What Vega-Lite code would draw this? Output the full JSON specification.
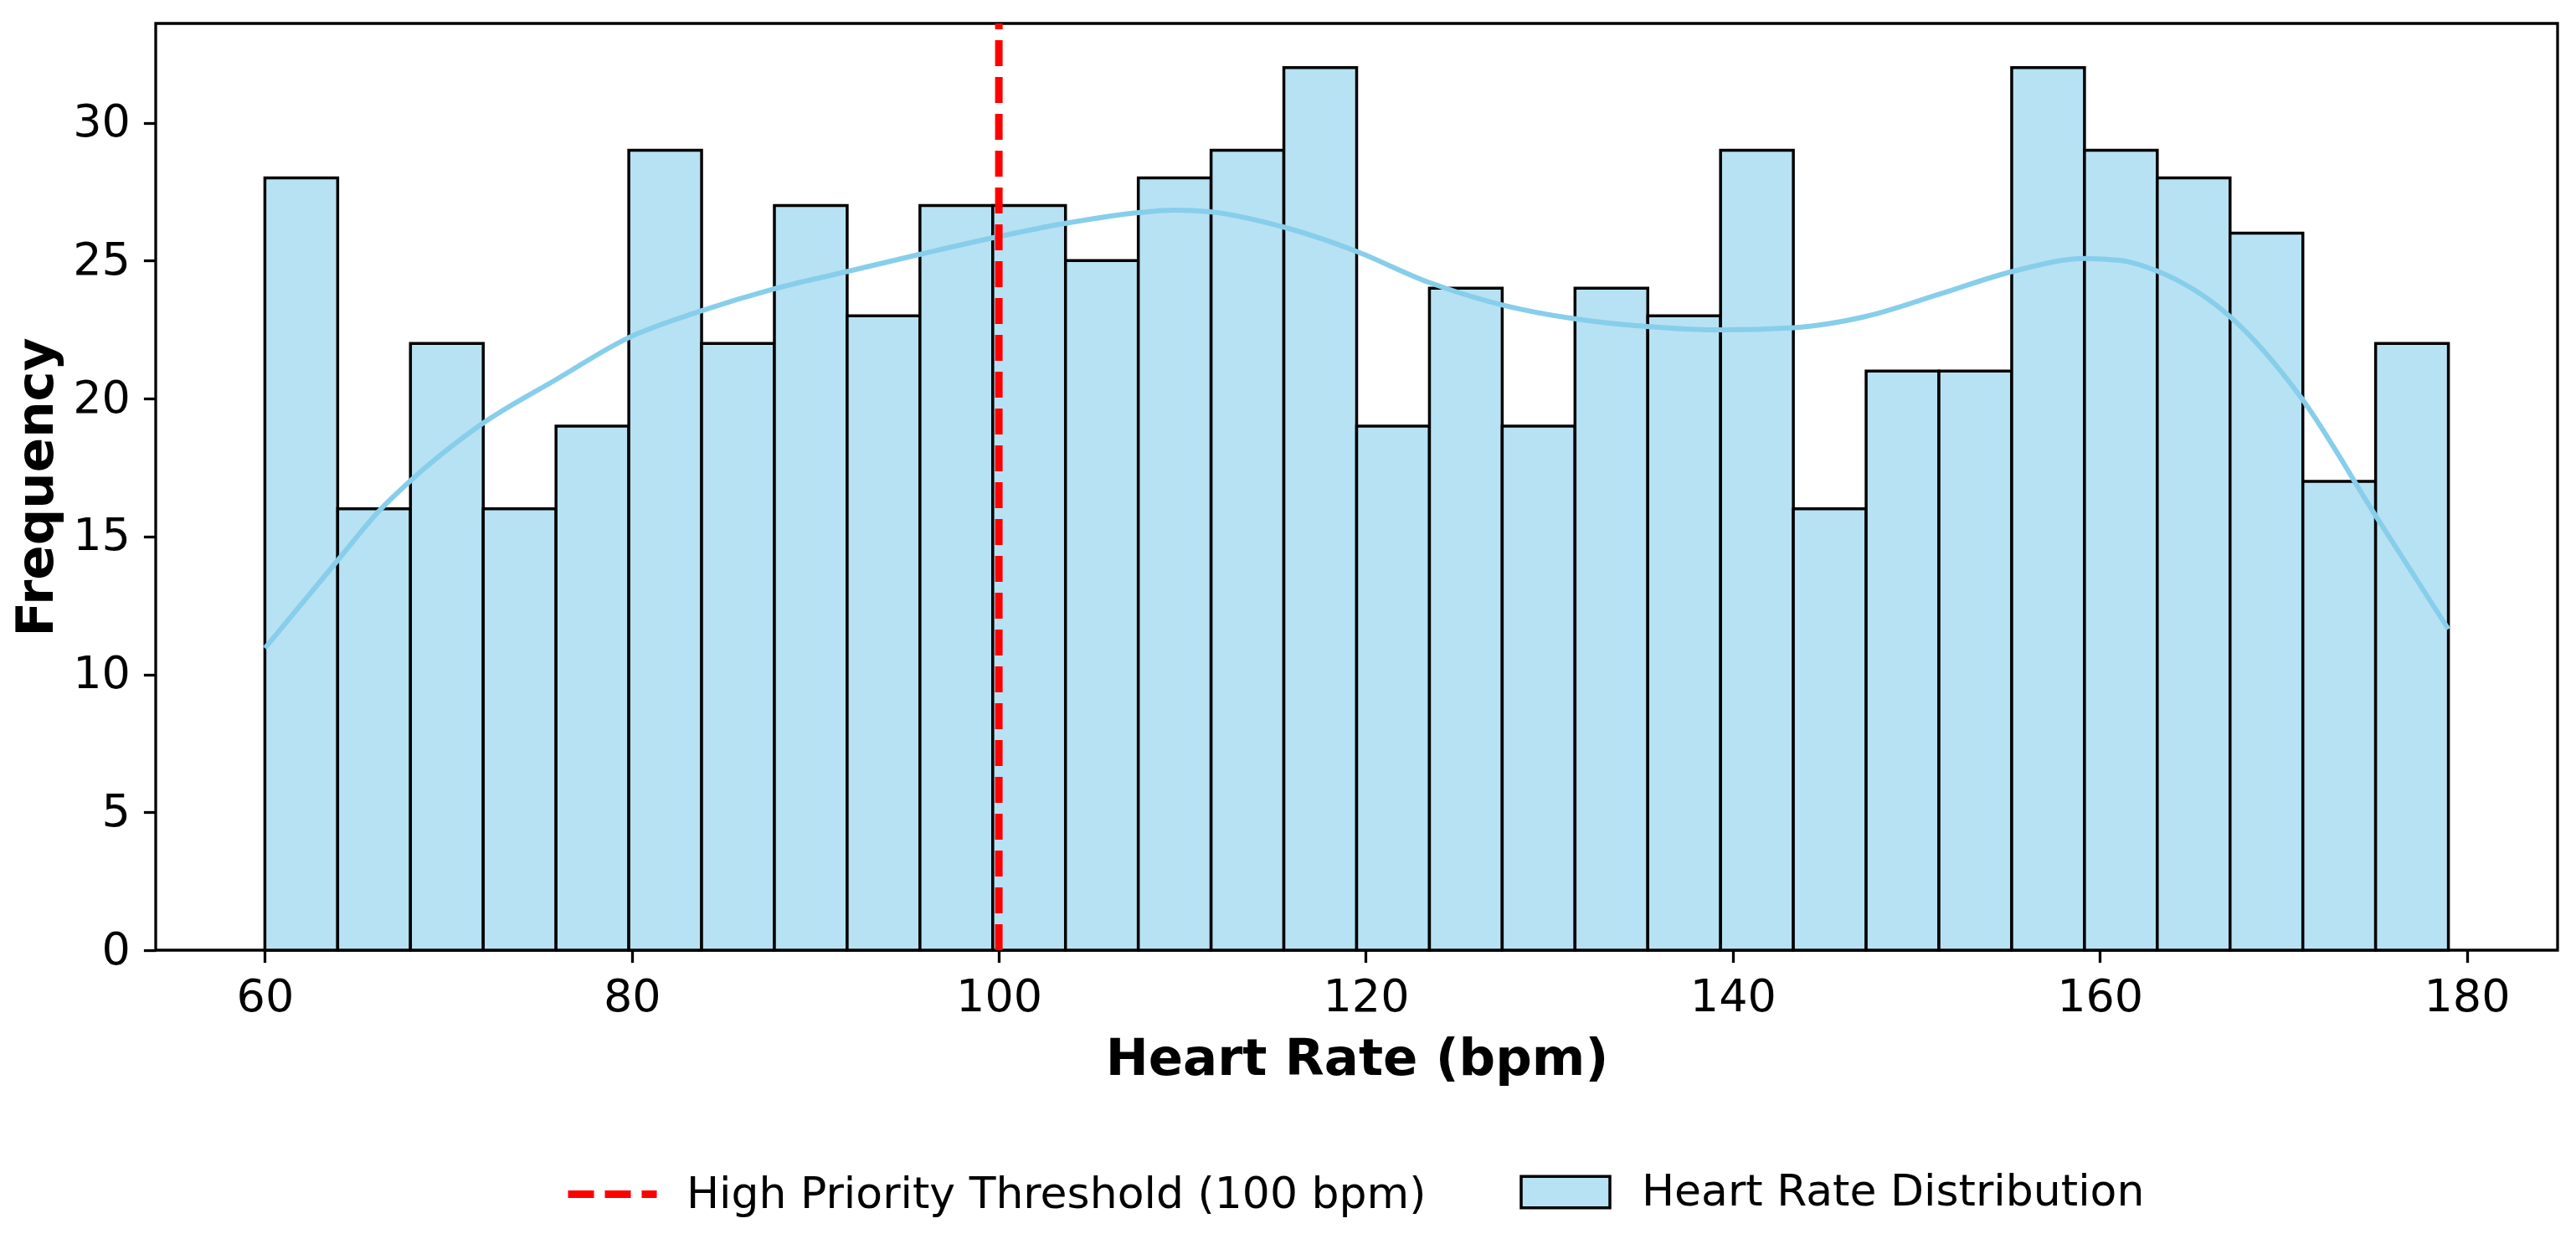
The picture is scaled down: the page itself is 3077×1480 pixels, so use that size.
{
  "$schema": "https://vega.github.io/schema/vega-lite/v6.json",
  "width": 2869,
  "height": 1107,
  "autosize": {"type": "none"},
  "padding": {"left": 186, "top": 28, "right": 22, "bottom": 345},
  "background": "white",
  "datasets": {
    "bins": [
      {"bin_start": 60, "bin_end": 63.967, "count": 28, "series": "Heart Rate Distribution"},
      {"bin_start": 63.967, "bin_end": 67.933, "count": 16, "series": "Heart Rate Distribution"},
      {"bin_start": 67.933, "bin_end": 71.9, "count": 22, "series": "Heart Rate Distribution"},
      {"bin_start": 71.9, "bin_end": 75.867, "count": 16, "series": "Heart Rate Distribution"},
      {"bin_start": 75.867, "bin_end": 79.833, "count": 19, "series": "Heart Rate Distribution"},
      {"bin_start": 79.833, "bin_end": 83.8, "count": 29, "series": "Heart Rate Distribution"},
      {"bin_start": 83.8, "bin_end": 87.767, "count": 22, "series": "Heart Rate Distribution"},
      {"bin_start": 87.767, "bin_end": 91.733, "count": 27, "series": "Heart Rate Distribution"},
      {"bin_start": 91.733, "bin_end": 95.7, "count": 23, "series": "Heart Rate Distribution"},
      {"bin_start": 95.7, "bin_end": 99.667, "count": 27, "series": "Heart Rate Distribution"},
      {"bin_start": 99.667, "bin_end": 103.633, "count": 27, "series": "Heart Rate Distribution"},
      {"bin_start": 103.633, "bin_end": 107.6, "count": 25, "series": "Heart Rate Distribution"},
      {"bin_start": 107.6, "bin_end": 111.567, "count": 28, "series": "Heart Rate Distribution"},
      {"bin_start": 111.567, "bin_end": 115.533, "count": 29, "series": "Heart Rate Distribution"},
      {"bin_start": 115.533, "bin_end": 119.5, "count": 32, "series": "Heart Rate Distribution"},
      {"bin_start": 119.5, "bin_end": 123.467, "count": 19, "series": "Heart Rate Distribution"},
      {"bin_start": 123.467, "bin_end": 127.433, "count": 24, "series": "Heart Rate Distribution"},
      {"bin_start": 127.433, "bin_end": 131.4, "count": 19, "series": "Heart Rate Distribution"},
      {"bin_start": 131.4, "bin_end": 135.367, "count": 24, "series": "Heart Rate Distribution"},
      {"bin_start": 135.367, "bin_end": 139.333, "count": 23, "series": "Heart Rate Distribution"},
      {"bin_start": 139.333, "bin_end": 143.3, "count": 29, "series": "Heart Rate Distribution"},
      {"bin_start": 143.3, "bin_end": 147.267, "count": 16, "series": "Heart Rate Distribution"},
      {"bin_start": 147.267, "bin_end": 151.233, "count": 21, "series": "Heart Rate Distribution"},
      {"bin_start": 151.233, "bin_end": 155.2, "count": 21, "series": "Heart Rate Distribution"},
      {"bin_start": 155.2, "bin_end": 159.167, "count": 32, "series": "Heart Rate Distribution"},
      {"bin_start": 159.167, "bin_end": 163.133, "count": 29, "series": "Heart Rate Distribution"},
      {"bin_start": 163.133, "bin_end": 167.1, "count": 28, "series": "Heart Rate Distribution"},
      {"bin_start": 167.1, "bin_end": 171.067, "count": 26, "series": "Heart Rate Distribution"},
      {"bin_start": 171.067, "bin_end": 175.033, "count": 17, "series": "Heart Rate Distribution"},
      {"bin_start": 175.033, "bin_end": 179, "count": 22, "series": "Heart Rate Distribution"}
    ],
    "kde": [
      {"bpm": 60, "density": 10.95},
      {"bpm": 64, "density": 14.16},
      {"bpm": 66.3, "density": 15.98},
      {"bpm": 67.9, "density": 17.0},
      {"bpm": 71.8, "density": 19.07},
      {"bpm": 75.9, "density": 20.7},
      {"bpm": 79.8, "density": 22.2},
      {"bpm": 83.7, "density": 23.16},
      {"bpm": 87.7, "density": 23.97},
      {"bpm": 91.7, "density": 24.6},
      {"bpm": 95.7, "density": 25.23},
      {"bpm": 99.9, "density": 25.86},
      {"bpm": 103.7, "density": 26.36},
      {"bpm": 107.6, "density": 26.74},
      {"bpm": 109.6, "density": 26.83},
      {"bpm": 111.5, "density": 26.77},
      {"bpm": 115.4, "density": 26.24},
      {"bpm": 119.4, "density": 25.36},
      {"bpm": 123.4, "density": 24.22},
      {"bpm": 127.4, "density": 23.4},
      {"bpm": 131.3, "density": 22.9},
      {"bpm": 135.3, "density": 22.61},
      {"bpm": 139.3, "density": 22.49},
      {"bpm": 143.3, "density": 22.57},
      {"bpm": 147.2, "density": 22.97},
      {"bpm": 151.3, "density": 23.79},
      {"bpm": 155.2, "density": 24.6},
      {"bpm": 159.2, "density": 25.08},
      {"bpm": 161.2, "density": 25.0},
      {"bpm": 163.1, "density": 24.63},
      {"bpm": 167.1, "density": 22.97},
      {"bpm": 171.0, "density": 20.01},
      {"bpm": 175.0, "density": 15.79},
      {"bpm": 179.0, "density": 11.64}
    ],
    "threshold": [
      {"bpm": 100, "label": "High Priority Threshold (100 bpm)"}
    ]
  },
  "layer": [
    {
      "data": {"name": "bins"},
      "mark": {"type": "bar", "stroke": "black", "strokeWidth": 3.5},
      "encoding": {
        "x": {
          "field": "bin_start",
          "type": "quantitative",
          "title": "Heart Rate (bpm)",
          "scale": {"domain": [54.05, 184.95], "nice": false, "zero": false},
          "axis": {
            "values": [60, 80, 100, 120, 140, 160, 180],
            "format": "d",
            "titleFont": "DejaVu Sans",
            "titleFontWeight": "bold",
            "titleFontSize": 61,
            "titleColor": "black",
            "titleBaseline": "alphabetic",
            "titleY": 148,
            "labelFont": "DejaVu Sans",
            "labelFontSize": 54,
            "labelColor": "black",
            "labelPadding": 15,
            "labelFlush": false,
            "labelOverlap": false,
            "tickSize": 14.6,
            "tickWidth": 3.3,
            "tickColor": "black",
            "domain": false,
            "grid": false
          }
        },
        "x2": {"field": "bin_end"},
        "y": {
          "field": "count",
          "type": "quantitative",
          "title": "Frequency",
          "scale": {"domain": [0, 33.6], "nice": false},
          "axis": {
            "values": [0, 5, 10, 15, 20, 25, 30],
            "titleFont": "DejaVu Sans",
            "titleFontWeight": "bold",
            "titleFontSize": 61,
            "titleColor": "black",
            "titleAngle": 270,
            "titleAlign": "center",
            "titleBaseline": "alphabetic",
            "titleX": -124,
            "titleY": 553.5,
            "labelFont": "DejaVu Sans",
            "labelFontSize": 54,
            "labelColor": "black",
            "labelPadding": 16,
            "labelOverlap": false,
            "tickSize": 14.6,
            "tickWidth": 3.3,
            "tickColor": "black",
            "domain": false,
            "grid": false
          }
        },
        "y2": {"datum": 0},
        "fill": {
          "field": "series",
          "type": "nominal",
          "scale": {"range": ["#B7E2F3"]},
          "legend": {
            "orient": "none",
            "legendX": 1629,
            "legendY": 1341,
            "title": null,
            "padding": 0,
            "symbolType": "M-1,-0.355H1V0.355H-1Z",
            "symbolSize": 11236,
            "symbolStrokeColor": "black",
            "symbolStrokeWidth": 3.5,
            "symbolOpacity": 1,
            "labelFont": "DejaVu Sans",
            "labelFontSize": 52,
            "labelColor": "black",
            "labelOffset": 36,
            "labelLimit": 1000
          }
        }
      }
    },
    {
      "data": {"name": "kde"},
      "mark": {"type": "line", "color": "#87CEEB", "strokeWidth": 6, "interpolate": "monotone"},
      "encoding": {
        "x": {"field": "bpm", "type": "quantitative", "title": "Heart Rate (bpm)"},
        "y": {"field": "density", "type": "quantitative", "title": "Frequency"}
      }
    },
    {
      "data": {"name": "threshold"},
      "mark": {"type": "rule", "strokeWidth": 9, "strokeDash": [31, 13]},
      "encoding": {
        "x": {"field": "bpm", "type": "quantitative", "title": "Heart Rate (bpm)"},
        "y": {"datum": 0},
        "y2": {"datum": 33.6},
        "stroke": {
          "field": "label",
          "type": "nominal",
          "scale": {"range": ["#FF0000"]},
          "legend": {
            "orient": "none",
            "legendX": 488,
            "legendY": 1341,
            "title": null,
            "padding": 0,
            "symbolType": "stroke",
            "symbolSize": 11236,
            "symbolStrokeWidth": 9,
            "symbolDash": [31, 13],
            "labelFont": "DejaVu Sans",
            "labelFontSize": 52,
            "labelColor": "black",
            "labelOffset": 31,
            "labelLimit": 1000
          }
        }
      }
    }
  ],
  "config": {
    "view": {"stroke": "black", "strokeWidth": 3.3}
  }
}
